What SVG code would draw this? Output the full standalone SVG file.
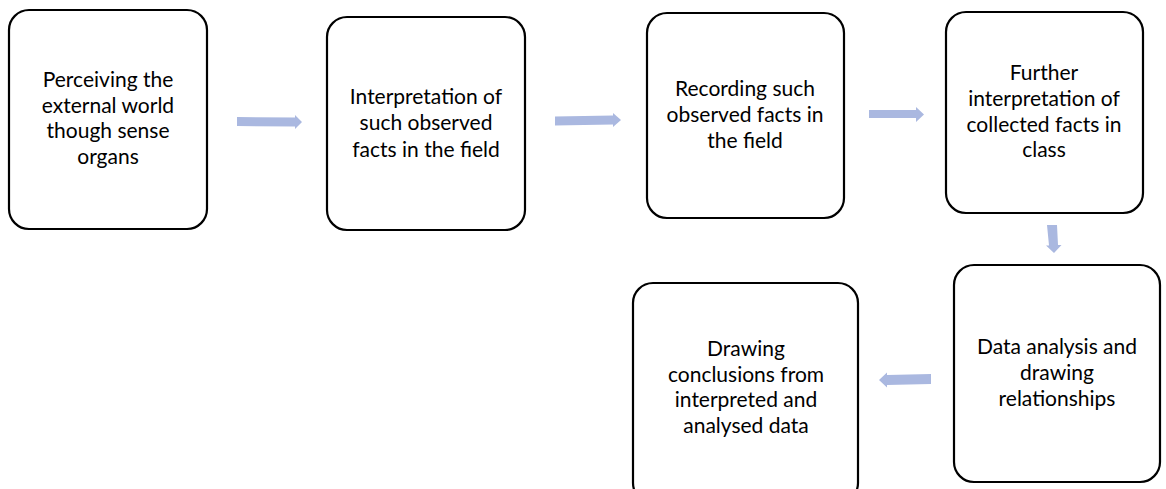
<svg xmlns="http://www.w3.org/2000/svg" width="1166" height="489" viewBox="0 0 1166 489">
<style>
.box{fill:#fff;stroke:#000;stroke-width:2.2}
.t{font-family:Lato,"Liberation Sans",sans-serif;font-size:21px;fill:#000;text-anchor:middle}
.arr{fill:#AAB8E0}
</style>
<rect width="1166" height="489" fill="#fff"/>
<g id="n1"><rect class="box" x="9" y="10" width="198" height="219" rx="20"/>
<text class="t"><tspan x="108" y="87">Perceiving the</tspan><tspan x="108" y="113">external world</tspan><tspan x="108" y="138">though sense</tspan><tspan x="108" y="164">organs</tspan></text></g>
<g id="n2"><rect class="box" x="327" y="17" width="198" height="213" rx="20"/>
<text class="t"><tspan x="426" y="104">Interpretation of</tspan><tspan x="426" y="130">such observed</tspan><tspan x="426" y="157">facts in the field</tspan></text></g>
<g id="n3"><rect class="box" x="647" y="13" width="197" height="205" rx="20"/>
<text class="t"><tspan x="745" y="96">Recording such</tspan><tspan x="745" y="122">observed facts in</tspan><tspan x="745" y="148">the field</tspan></text></g>
<g id="n4"><rect class="box" x="946" y="12" width="197" height="201" rx="20"/>
<text class="t"><tspan x="1044" y="80">Further</tspan><tspan x="1044" y="106">interpretation of</tspan><tspan x="1044" y="132">collected facts in</tspan><tspan x="1044" y="157">class</tspan></text></g>
<g id="n5"><rect class="box" x="954" y="265" width="206" height="217" rx="20"/>
<text class="t"><tspan x="1057" y="354">Data analysis and</tspan><tspan x="1057" y="380">drawing</tspan><tspan x="1057" y="406">relationships</tspan></text></g>
<g id="n6"><rect class="box" x="633" y="283" width="225" height="220" rx="20"/>
<text class="t"><tspan x="746" y="356">Drawing</tspan><tspan x="746" y="382">conclusions from</tspan><tspan x="746" y="407">interpreted and</tspan><tspan x="746" y="433">analysed data</tspan></text></g>
<g id="connectors">
<polygon class="arr" points="237,117 295,117.5 295,115 302,122 295,129 295,126.5 237,126"/>
<polygon class="arr" points="555,116.5 613,115.5 613,113 621,120 613,127 613,124.5 555,125.5"/>
<polygon class="arr" points="869,110 916,110 916,107 924,114.5 916,122 916,118 869,118"/>
<polygon class="arr" points="1047,225 1057,225 1058,245 1061.5,245 1054,253 1046,245.5 1049,245.5"/>
<polygon class="arr" points="931,374 887,375 887,372.5 879,380 887,387.5 887,385 931,384"/>
</g>
</svg>
